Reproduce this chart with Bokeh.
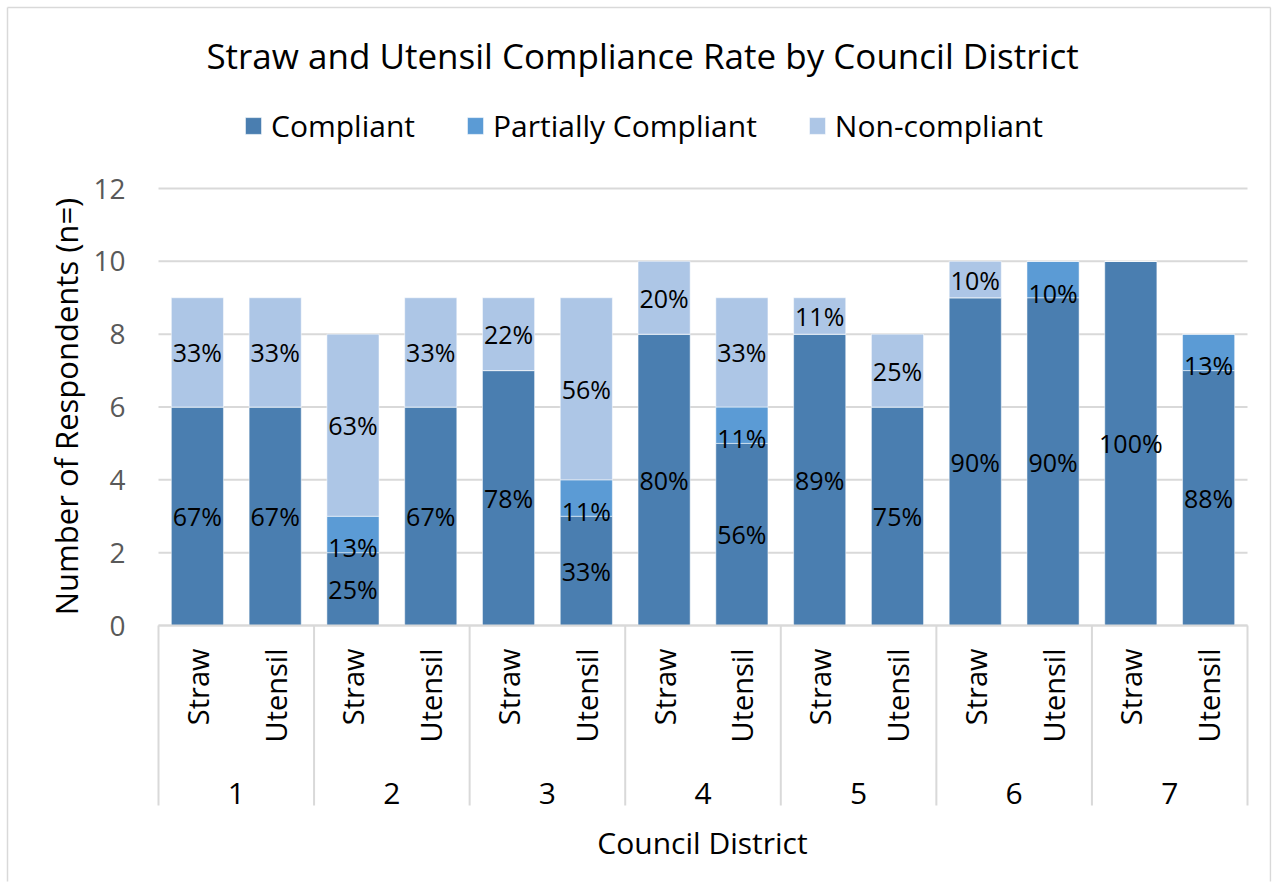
import numpy as np
from bokeh.plotting import figure
from bokeh.models import ColumnDataSource, Range1d, Legend, LegendItem
from bokeh.core.properties import value
from bokeh.embed import file_html
from bokeh.resources import INLINE

# ---------------- data ----------------
districts = ["1", "2", "3", "4", "5", "6", "7"]
item_types = ["Straw", "Utensil"]
compliant = [6, 6, 2, 6, 7, 3, 8, 5, 8, 6, 9, 9, 10, 7]
partial = [0, 0, 1, 0, 0, 1, 0, 1, 0, 0, 0, 1, 0, 1]
noncompliant = [3, 3, 5, 3, 2, 5, 2, 3, 1, 2, 1, 0, 0, 0]
series_names = ["Compliant", "Partially Compliant", "Non-compliant"]
y_ticks = [0, 2, 4, 6, 8, 10, 12]
title_text = "Straw and Utensil Compliance Rate by Council District"
y_title = "Number of Respondents (n=" + ")"
x_title = "Council District"

# ---------------- layout / styling ----------------
FONT = "Open Sans"
COLORS = ["#4a7eb0", "#5b9bd5", "#adc6e6"]
GRID = "#d9d9d9"
W, H = 1276, 886
B = 5                                   # Bokeh's default min_border
PL, PR, PT, PB = 158, 1247, 188, 625    # plot-area box in page pixels
n = len(compliant)
ymax = y_ticks[-1]
UX = (PR - PL) / n
UY = (PB - PT) / ymax

def X(px):
    return (px - PL) / UX

def Y(py):
    return (PB - py) / UY

xs = np.arange(n) + 0.5
c = np.array(compliant)
pp = np.array(partial)
nc = np.array(noncompliant)
src = ColumnDataSource(dict(x=xs, b0=np.zeros(n), t0=c, b1=c, t1=c + pp,
                            b2=c + pp, t2=c + pp + nc))

p = figure(width=W, height=H, x_range=Range1d(X(B), X(W - B)),
           y_range=Range1d(Y(H - B), Y(B)), x_axis_type=None, y_axis_type=None,
           output_backend="svg", toolbar_location=None, title=None)
p.outline_line_color = None
p.xgrid.visible = False
p.ygrid.visible = False

def txt(x, y, t, size, color="black", align="center", angle=0.0):
    p.text(x=x, y=y, text=t, text_font=value(FONT), text_font_size=size,
           text_color=color, text_align=align, text_baseline="middle", angle=angle)

# chart border
p.segment(x0=[X(7), X(7), X(1270)], y0=[Y(7), Y(7), Y(7)],
          x1=[X(7), X(1270), X(1270)], y1=[Y(H), Y(7), Y(H)],
          line_color=GRID, line_width=1.5)

# horizontal gridlines
p.segment(x0=[0] * len(y_ticks), x1=[n] * len(y_ticks), y0=y_ticks, y1=y_ticks,
          line_color=GRID, line_width=2)

# stacked bars
rs = []
for k in range(3):
    r = p.vbar(x="x", bottom=f"b{k}", top=f"t{k}", width=0.67, source=src,
               fill_color=COLORS[k], line_color="white", line_width=1, line_alpha=0.5)
    rs.append(r)

# data labels (percent of each bar's total, centred in segment)
lx, ly, lt, lo = [], [], [], []
for i in range(n):
    tot = compliant[i] + partial[i] + noncompliant[i]
    base = 0
    for k, v in enumerate((compliant[i], partial[i], noncompliant[i])):
        if v > 0:
            lx.append(xs[i])
            ly.append(base + v / 2)
            lt.append(f"{int(100 * v / tot + 0.5)}%")
            lo.append(13 if k == 1 else 0)
        base += v
lsrc = ColumnDataSource(dict(x=lx, y=ly, t=lt, o=lo))
p.text(x="x", y="y", text="t", source=lsrc, text_align="center",
       text_baseline="middle", text_font=value(FONT), text_font_size="25px",
       text_color="black", y_offset="o")

# y axis: tick labels and title
txt([X(125)] * len(y_ticks), y_ticks, [str(t) for t in y_ticks], "28px",
    color="#595959", align="right")
txt([X(65)], [Y(406)], [y_title], "31px", angle=np.pi / 2)

# x axis: axis line, group separators, item-type labels, district labels, title
p.segment(x0=[0], x1=[n], y0=[0], y1=[0], line_color=GRID, line_width=2)
sep = list(range(0, n + 1, 2))
p.segment(x0=sep, x1=sep, y0=[0] * len(sep), y1=[Y(805)] * len(sep),
          line_color=GRID, line_width=2)
txt(list(xs), [Y(648)] * n, [item_types[i % 2] for i in range(n)], "29px",
    align="right", angle=np.pi / 2)
txt([2 * i + 1 for i in range(len(districts))], [Y(793)] * len(districts),
    districts, "30px")
txt([X(702)], [Y(842)], [x_title], "30px")

# chart title
txt([X(642)], [Y(55)], [title_text], "35px")

# legend (inside the canvas, above the plot area)
legend = Legend(items=[LegendItem(label=nm, renderers=[r]) for nm, r in zip(series_names, rs)],
                orientation="horizontal", location=(238, 735),
                label_text_font=FONT, label_text_font_size="30px",
                label_text_color="black",
                glyph_width=20, glyph_height=21, label_standoff=8, spacing=50,
                border_line_color=None, background_fill_alpha=0, padding=0, margin=0)
p.add_layout(legend, "center")

open("out.html", "w").write(file_html(p, INLINE))
